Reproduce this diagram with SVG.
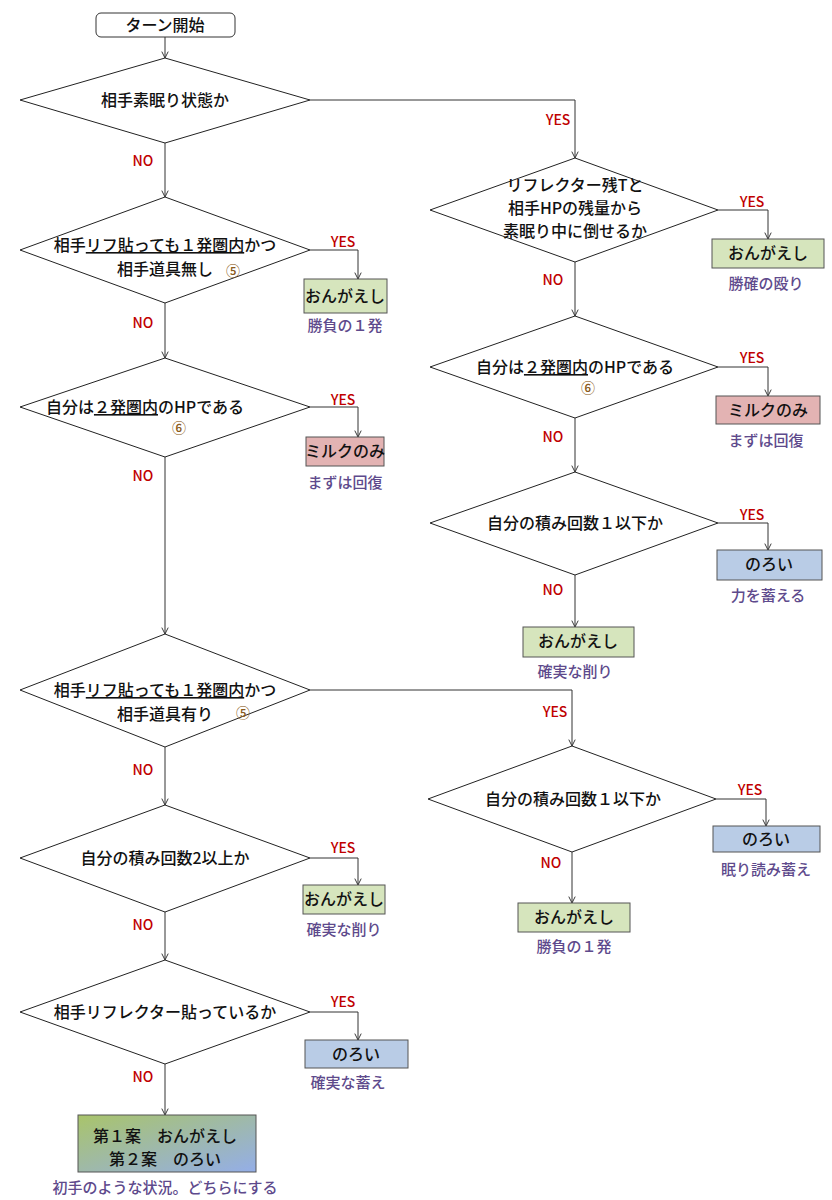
<svg xmlns="http://www.w3.org/2000/svg" width="832" height="1200" viewBox="0 0 832 1200">
<defs>
<marker id="ar" viewBox="0 0 10 10" refX="9" refY="5" markerWidth="8" markerHeight="8" orient="auto"><path d="M1,1 L9,5 L1,9" fill="none" stroke="#333" stroke-width="1.2"/></marker>
<linearGradient id="gr" x1="0" y1="0" x2="1" y2="1"><stop offset="0" stop-color="#a9c46a"/><stop offset="1" stop-color="#94aee8"/></linearGradient>
</defs>
<style>
text{font-family:"Noto Sans CJK JP","Noto Sans",sans-serif;font-size:16px;fill:#111;text-anchor:middle;font-weight:500}
.d{fill:#fff;stroke:#222;stroke-width:1}
.g{fill:#d6e5bd;stroke:#555;stroke-width:1}
.p{fill:#e3b3b3;stroke:#555;stroke-width:1}
.b{fill:#b9cce6;stroke:#555;stroke-width:1}
.y{fill:#c00000;font-size:14px}
.n{fill:#c00000;font-size:14px}
.c{fill:#5e4a8c;font-size:15px}
.cir{fill:#8a5a20;font-size:14px}
.l{fill:none;stroke:#333;stroke-width:1}
</style>
<rect width="832" height="1200" fill="#fff"/>
<g id="connectors">
<path class="l" d="M165,37 V58" marker-end="url(#ar)"/>
<path class="l" d="M310,100 H575 V158" marker-end="url(#ar)"/>
<path class="l" d="M165,143 V197" marker-end="url(#ar)"/>
<path class="l" d="M310,250 H358 V279" marker-end="url(#ar)"/>
<path class="l" d="M165,303 V358" marker-end="url(#ar)"/>
<path class="l" d="M310,407 H358 V437" marker-end="url(#ar)"/>
<path class="l" d="M165,457 V634" marker-end="url(#ar)"/>
<path class="l" d="M310,690 H572 V746" marker-end="url(#ar)"/>
<path class="l" d="M165,747 V805" marker-end="url(#ar)"/>
<path class="l" d="M310,858 H358 V885" marker-end="url(#ar)"/>
<path class="l" d="M165,912 V960" marker-end="url(#ar)"/>
<path class="l" d="M310,1012 H358 V1040" marker-end="url(#ar)"/>
<path class="l" d="M165,1064 V1115" marker-end="url(#ar)"/>
<path class="l" d="M718,210 H768 V239" marker-end="url(#ar)"/>
<path class="l" d="M575,262 V316" marker-end="url(#ar)"/>
<path class="l" d="M718,367 H768 V396" marker-end="url(#ar)"/>
<path class="l" d="M575,418 V472" marker-end="url(#ar)"/>
<path class="l" d="M718,523 H768 V550" marker-end="url(#ar)"/>
<path class="l" d="M575,575 V627" marker-end="url(#ar)"/>
<path class="l" d="M716,799 H766 V826" marker-end="url(#ar)"/>
<path class="l" d="M572,852 V903" marker-end="url(#ar)"/>
<text class="y" x="558" y="125">YES</text>
<text class="n" x="143" y="166">NO</text>
<text class="y" x="343" y="247">YES</text>
<text class="n" x="143" y="328">NO</text>
<text class="y" x="343" y="405">YES</text>
<text class="n" x="143" y="481">NO</text>
<text class="y" x="555" y="717">YES</text>
<text class="n" x="143" y="775">NO</text>
<text class="y" x="343" y="853">YES</text>
<text class="n" x="143" y="930">NO</text>
<text class="y" x="343" y="1007">YES</text>
<text class="n" x="143" y="1082">NO</text>
<text class="y" x="752" y="207">YES</text>
<text class="n" x="553" y="285">NO</text>
<text class="y" x="752" y="363">YES</text>
<text class="n" x="553" y="442">NO</text>
<text class="y" x="752" y="520">YES</text>
<text class="n" x="553" y="595">NO</text>
<text class="y" x="750" y="795">YES</text>
<text class="n" x="551" y="868">NO</text>
</g>
<g id="start"><rect x="96" y="13" width="139" height="24" rx="5" fill="#fff" stroke="#333"/><text x="165" y="31">ターン開始</text></g>
<g id="d1"><polygon class="d" points="165,58 310,100 165,143 20,100"/><text x="165" y="106">相手素眠り状態か</text></g>
<g id="d2"><polygon class="d" points="165,197 310,250 165,303 20,250"/><text x="165" y="251">相手<tspan text-decoration="underline">リフ貼っても１発圏内</tspan>かつ</text><text x="165" y="275">相手道具無し</text><text class="cir" x="233" y="276">⑤</text></g>
<g id="r1"><rect class="g" x="304" y="279" width="83" height="34"/><text x="345" y="302">おんがえし</text><text class="c" x="345" y="331">勝負の１発</text></g>
<g id="d3"><polygon class="d" points="165,358 310,407 165,457 20,407"/><text x="145" y="413">自分は<tspan text-decoration="underline">２発圏内</tspan>のHPである</text><text class="cir" x="179" y="433">⑥</text></g>
<g id="r2"><rect class="p" x="306" y="437" width="78" height="29"/><text x="345" y="457">ミルクのみ</text><text class="c" x="345" y="488">まずは回復</text></g>
<g id="d4"><polygon class="d" points="165,634 310,690 165,747 20,690"/><text x="165" y="696">相手<tspan text-decoration="underline">リフ貼っても１発圏内</tspan>かつ</text><text x="165" y="720">相手道具有り</text><text class="cir" x="243" y="718">⑤</text></g>
<g id="d5"><polygon class="d" points="165,805 310,858 165,912 20,858"/><text x="165" y="864">自分の積み回数2以上か</text></g>
<g id="r3"><rect class="g" x="303" y="885" width="82" height="29"/><text x="344" y="905">おんがえし</text><text class="c" x="344" y="935">確実な削り</text></g>
<g id="d6"><polygon class="d" points="165,960 310,1012 165,1064 20,1012"/><text x="165" y="1018">相手リフレクター貼っているか</text></g>
<g id="r4"><rect class="b" x="305" y="1040" width="103" height="28"/><text x="356" y="1060">のろい</text><text class="c" x="348" y="1088">確実な蓄え</text></g>
<g id="final"><rect x="78" y="1115" width="178" height="57" fill="url(#gr)" stroke="#555"/><text x="165" y="1142">第１案　おんがえし</text><text x="165" y="1165">第２案　のろい</text><text class="c" x="165" y="1193">初手のような状況。どちらにする</text></g>
<g id="d7"><polygon class="d" points="575,158 718,210 575,262 430,210"/><text x="575" y="191">リフレクター残Tと</text><text x="575" y="214">相手HPの残量から</text><text x="575" y="237">素眠り中に倒せるか</text></g>
<g id="r5"><rect class="g" x="712" y="239" width="112" height="29"/><text x="768" y="259">おんがえし</text><text class="c" x="766" y="289">勝確の殴り</text></g>
<g id="d8"><polygon class="d" points="575,316 718,367 575,418 430,367"/><text x="575" y="373">自分は<tspan text-decoration="underline">２発圏内</tspan>のHPである</text><text class="cir" x="588" y="393">⑥</text></g>
<g id="r6"><rect class="p" x="716" y="396" width="104" height="28"/><text x="768" y="416">ミルクのみ</text><text class="c" x="766" y="446">まずは回復</text></g>
<g id="d9"><polygon class="d" points="575,472 718,523 575,575 430,523"/><text x="575" y="529">自分の積み回数１以下か</text></g>
<g id="r7"><rect class="b" x="717" y="550" width="105" height="30"/><text x="769" y="570">のろい</text><text class="c" x="768" y="601">力を蓄える</text></g>
<g id="r8"><rect class="g" x="523" y="627" width="111" height="30"/><text x="578" y="647">おんがえし</text><text class="c" x="575" y="677">確実な削り</text></g>
<g id="d10"><polygon class="d" points="572,746 716,799 572,852 428,799"/><text x="573" y="805">自分の積み回数１以下か</text></g>
<g id="r9"><rect class="b" x="713" y="826" width="107" height="26"/><text x="766" y="845">のろい</text><text class="c" x="766" y="875">眠り読み蓄え</text></g>
<g id="r10"><rect class="g" x="518" y="903" width="112" height="29"/><text x="574" y="923">おんがえし</text><text class="c" x="574" y="952">勝負の１発</text></g>
</svg>
